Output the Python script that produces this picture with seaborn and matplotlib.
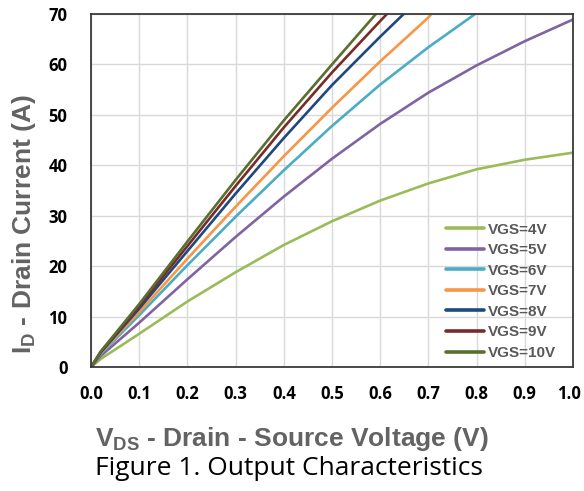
import matplotlib.pyplot as plt
import matplotlib.transforms as mtransforms
import seaborn as sns
import pandas as pd

# --- values ---
vds_4 = [0.0, 0.02, 0.1, 0.2, 0.3, 0.4, 0.5, 0.6, 0.7, 0.8, 0.9, 1.0]
id_4 = [0.0, 1.6, 6.6, 13.0, 18.8, 24.2, 28.9, 33.0, 36.4, 39.2, 41.1, 42.5]

vds_5 = [0.0, 0.02, 0.1, 0.2, 0.3, 0.4, 0.5, 0.6, 0.7, 0.8, 0.9, 1.0]
id_5 = [0.0, 2.2, 8.8, 17.4, 25.8, 33.8, 41.3, 48.2, 54.4, 59.8, 64.6, 68.9]

vds_6 = [0.0, 0.02, 0.1, 0.2, 0.3, 0.4, 0.5, 0.6, 0.7, 0.8]
id_6 = [0.0, 2.6, 10.3, 20.2, 29.8, 39.0, 47.8, 56.0, 63.4, 70.2]

vds_7 = [0.0, 0.02, 0.1, 0.2, 0.3, 0.4, 0.5, 0.6, 0.7, 0.708]
id_7 = [0.0, 2.8, 10.9, 21.5, 31.8, 41.8, 51.4, 60.6, 69.3, 70.2]

vds_8 = [0.0, 0.02, 0.1, 0.2, 0.3, 0.4, 0.5, 0.6, 0.651]
id_8 = [0.0, 2.9, 11.6, 23.0, 34.4, 45.4, 55.9, 65.5, 70.2]

vds_9 = [0.0, 0.02, 0.1, 0.2, 0.3, 0.4, 0.5, 0.6, 0.616]
id_9 = [0.0, 3.0, 12.1, 24.0, 35.9, 47.5, 58.4, 68.6, 70.2]

vds_10 = [0.0, 0.02, 0.1, 0.2, 0.3, 0.4, 0.5, 0.593]
id_10 = [0.0, 3.1, 12.5, 24.9, 37.1, 48.9, 60.0, 70.2]

labels = ['VGS=4V', 'VGS=5V', 'VGS=6V', 'VGS=7V', 'VGS=8V', 'VGS=9V', 'VGS=10V']
colors = ['#9BBB59', '#8064A2', '#4BACC6', '#F79646', '#1F497D', '#772C2A', '#5A6E2F']
x_ticks = [0.0, 0.1, 0.2, 0.3, 0.4, 0.5, 0.6, 0.7, 0.8, 0.9, 1.0]
y_ticks = [0, 10, 20, 30, 40, 50, 60, 70]

series = [(vds_4, id_4), (vds_5, id_5), (vds_6, id_6), (vds_7, id_7),
          (vds_8, id_8), (vds_9, id_9), (vds_10, id_10)]
frames = []
for lab, (xs, ys) in zip(labels, series):
    frames.append(pd.DataFrame({'VDS': xs, 'ID': ys, 'Curve': lab}))
df = pd.concat(frames, ignore_index=True)

sns.set_style("whitegrid")
plt.rcParams['mathtext.fontset'] = 'custom'
plt.rcParams['mathtext.rm'] = 'Liberation Sans'
plt.rcParams['mathtext.bf'] = 'Liberation Sans:bold'

fig = plt.figure(figsize=(5.84, 4.91), dpi=100)
ax = fig.add_axes([0.156, 0.2525, 0.825, 0.719])

sns.lineplot(data=df, x='VDS', y='ID', hue='Curve', hue_order=labels,
             palette=colors, linewidth=1.9, sort=False, ax=ax)

ax.set_xlim(0, 1.0)
ax.set_ylim(0, 70)
ax.set_xticks(x_ticks)
ax.set_yticks(y_ticks)
tick_font = dict(fontsize=12, fontweight='bold', family='Open Sans', color='black')
ax.set_xticklabels([f'{v:.1f}' for v in x_ticks], **tick_font)
ax.set_yticklabels([str(v) for v in y_ticks], **tick_font)
ax.tick_params(axis='x', length=0, pad=13)
ax.tick_params(axis='y', length=0, pad=17)
# keep the last x tick label inside the canvas
last = ax.get_xticklabels()[-1]
last.set_transform(last.get_transform() +
                   mtransforms.ScaledTranslation(-3 / 72, 0, fig.dpi_scale_trans))

ax.grid(color='#D9D9D9', linewidth=1.0)
for s in ax.spines.values():
    s.set_color('#3A3A3A')
    s.set_linewidth(1.3)

label_font = dict(fontsize=19, fontweight='bold', family='Liberation Sans', color='#636363')
ax.set_xlabel(r'$\mathbf{V_{DS}}$ - Drain - Source Voltage (V)', ha='left', **label_font)
ax.xaxis.set_label_coords(0.008, -0.165)
ax.set_ylabel(r'$\mathbf{I_D}$ - Drain Current (A)', **label_font)
ax.yaxis.set_label_coords(-0.111, 0.405)

leg = ax.legend(loc='lower right', frameon=False, handlelength=2.5,
                labelspacing=0.43, handletextpad=0.25, borderaxespad=0, borderpad=0,
                bbox_to_anchor=(0.965, 0.02), prop={'family': 'Liberation Sans',
                                                   'weight': 'bold', 'size': 11})
for t in leg.get_texts():
    t.set_color('#595959')
for h in leg.get_lines():
    h.set_linewidth(2.6)

fig.text(95 / 584, 1 - 475 / 491, 'Figure 1. Output Characteristics', fontsize=19,
         family='Open Sans', ha='left', va='baseline', color='black')

plt.savefig('out.png', dpi=100)
